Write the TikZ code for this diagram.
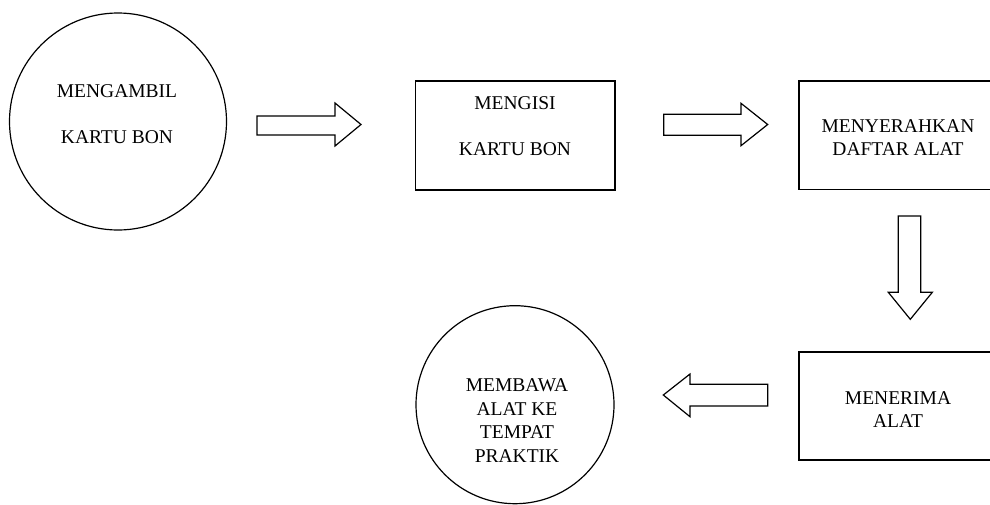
\documentclass[tikz,border=0pt]{standalone}
\usepackage{fontspec}
\setmainfont{Liberation Serif}
\begin{document}
\begin{tikzpicture}[x=1pt,y=-1pt,
  shapeline/.style={draw=black,line width=1.2pt},
  roundbox/.style={shapeline,circle,inner sep=0pt},
  rectbox/.style={shapeline,rectangle,inner sep=0pt},
  lbl/.style={align=center,inner sep=0pt,font={\fontsize{19.5}{23}\selectfont}},
  blockarrow/.style={shapeline,line join=miter}]
\clip (0,0) rectangle (990,504);
% shapes
\node[roundbox,minimum size=217pt] (c1) at (118,121.5) {};
\node[rectbox,minimum width=199.3pt,minimum height=109pt] (b1) at (515.3,135.5) {};
\node[rectbox,minimum width=198pt,minimum height=108.3pt] (b2) at (898,135.2) {};
\node[rectbox,minimum width=198pt,minimum height=108pt] (b3) at (898,406) {};
\node[roundbox,minimum size=198pt] (c2) at (515,404.7) {};
% texts
\node[lbl] (t1) at (117,114) {MENGAMBIL\\[23pt]KARTU BON};
\node[lbl] (t2) at (515,126) {MENGISI\\[23pt]KARTU BON};
\node[lbl] (t3) at (898,138) {MENYERAHKAN\\DAFTAR ALAT};
\node[lbl] (t4) at (898,409.5) {MENERIMA\\ALAT};
\node[lbl] (t5) at (517,420.5) {MEMBAWA\\[0.7pt]ALAT KE\\[0.7pt]TEMPAT\\[0.7pt]PRAKTIK};
% block arrows
\draw[blockarrow] (257,116) -- (335,116) -- (335,103) -- (361,124.5) -- (335,146) -- (335,135) -- (257,135) -- cycle;
\draw[blockarrow] (663.7,114.3) -- (741,114.3) -- (741,103.3) -- (767.7,124.5) -- (741,145.7) -- (741,135.3) -- (663.7,135.3) -- cycle;
\draw[blockarrow] (898.3,216) -- (920.7,216) -- (920.7,292.3) -- (932.3,292.3) -- (910.3,319.3) -- (888.3,292.3) -- (898.3,292.3) -- cycle;
\draw[blockarrow] (767.7,384.3) -- (690,384.3) -- (690,374) -- (663.3,395) -- (690,416.7) -- (690,406) -- (767.7,406) -- cycle;
\end{tikzpicture}
\end{document}
